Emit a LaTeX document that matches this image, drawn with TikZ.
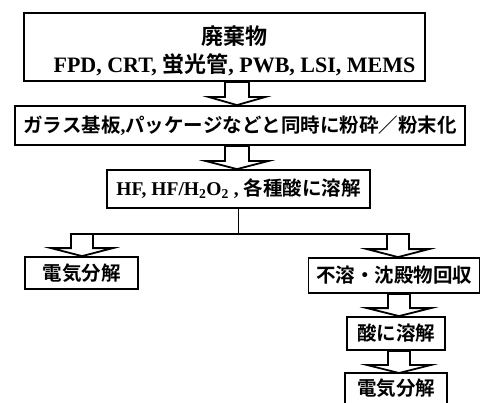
\documentclass[tikz,border=0pt]{standalone}
\usepackage{fontspec}
\setmainfont{Liberation Serif}
\newfontfamily\jp{Noto Sans CJK JP}[BoldFont=* Bold]
\usetikzlibrary{calc}
\tikzset{
  box/.style={draw, line width=1.8pt, rectangle, inner sep=0pt, fill=white},
  blk/.style={draw, line width=1.8pt, fill=white, line join=miter},
  conn/.style={line width=1.8pt},
  big/.style={font=\bfseries\fontsize{22}{28}\selectfont},
  mid/.style={font=\bfseries\fontsize{19.5}{24}\selectfont},
}
% #1 x centre, #2 from, #3 to, #4 stem half width, #5 head half width
\newcommand\blockarrow[5]{%
  \path[blk] let \p1=(#2), \p2=(#3) in
    ({#1pt-#4pt},\y1) -- ({#1pt-#4pt},{\y2+8pt}) -- ({#1pt-#5pt},{\y2+8pt})
    -- (#1pt,\y2) -- ({#1pt+#5pt},{\y2+8pt}) -- ({#1pt+#4pt},{\y2+8pt})
    -- ({#1pt+#4pt},\y1) -- cycle;}
\begin{document}
\begin{tikzpicture}[x=1pt,y=-1pt]
\useasboundingbox (0,0) rectangle (481,403);
\clip (0,0) rectangle (481,403);
% boxes
\node (b1) [box, minimum width=401pt, minimum height=68pt] at (224.5,47) {};
\node (t1) [big, align=center] at (234.5,50.5) {{\jp 廃棄物}\\FPD, CRT, {\jp 蛍光管}, PWB, LSI, MEMS};
\node (b2) [box, mid, minimum width=450pt, minimum height=39pt] at (240,125.5)
  {{\jp ガラス基板},{\jp パッケージなどと同時に粉砕／粉末化}};
\node (b3) [box, mid, minimum width=263pt, minimum height=38pt] at (238.5,189)
  {HF, HF/H\textsubscript{2}O\textsubscript{2} , {\jp 各種酸に溶解}};
\node (b4) [box, mid, minimum width=113pt, minimum height=32pt] at (81.5,273) {\jp 電気分解};
\node (b5) [box, mid, minimum width=171pt, minimum height=35pt] at (394,275.5) {\jp 不溶・沈殿物回収};
\node (b6) [box, mid, minimum width=98pt, minimum height=33pt] at (396,333.5) {\jp 酸に溶解};
\draw[conn] (345,420) |- (447,373) -- (447,420);
\coordinate (b7top) at (396,373);
\node (b7) [mid] at (396,388) {\jp 電気分解};
% connectors
\coordinate (jl) at (82,234);
\coordinate (jr) at (398,234);
\draw[conn] (b3.south) -- (b3.south |- jl);
\draw[conn] ([xshift=-11pt]jl) -- ([xshift=11pt]jr);
\blockarrow{237}{b1.south}{b2.north}{12}{28}
\blockarrow{237}{b2.south}{b3.north}{12}{31}
\blockarrow{82}{jl}{b4.north}{11}{31}
\blockarrow{398}{jr}{b5.north}{11}{31}
\blockarrow{399}{b5.south}{b6.north}{11}{32}
\blockarrow{399}{b6.south}{b7top}{11}{32}
\end{tikzpicture}
\end{document}
